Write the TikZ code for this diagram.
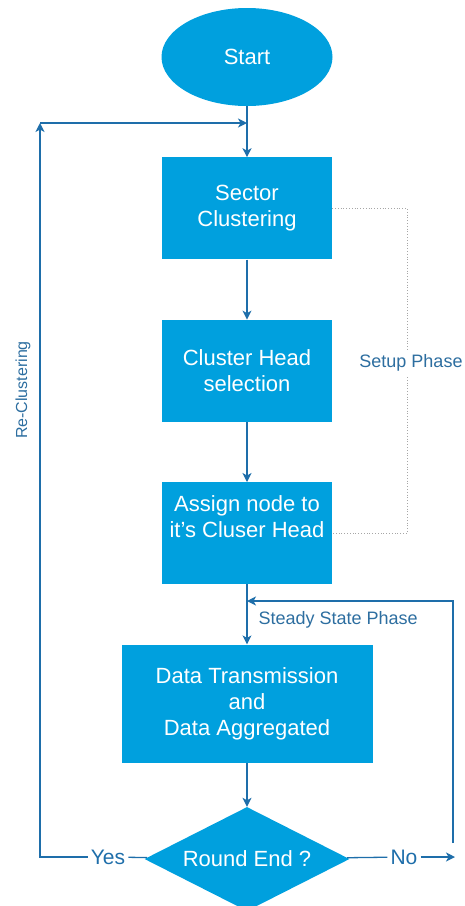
\documentclass[tikz,border=0pt]{standalone}
\usepackage{fontspec}
\setmainfont{Liberation Sans}
\usetikzlibrary{positioning,shapes.geometric,arrows.meta}
\definecolor{boxblue}{RGB}{0, 160, 222}
\definecolor{lineblue}{RGB}{30, 110, 170}
\definecolor{labelblue}{RGB}{45, 110, 160}

\begin{document}
\begin{tikzpicture}[x=1pt, y=1pt, node distance=60pt, >={Stealth[length=9pt, width=9pt, inset=2.5pt]}, every node/.style={font=\fontsize{22}{26}\selectfont}]
        \useasboundingbox (0,0) rectangle (464,-906);

        \node[ellipse, fill=boxblue, text=white, minimum width=171pt, minimum height=98pt, inner sep=0pt] (start) at (247,-57) {Start};
        \node[fill=boxblue, text=white, minimum width=170pt, minimum height=102pt, align=center, below=51pt of start] (sector) {Sector\\Clustering};
        \node[fill=boxblue, text=white, minimum width=170pt, minimum height=102pt, align=center, below=of sector] (cluster) {Cluster Head\\selection};
        \node[fill=boxblue, text=white, minimum width=170pt, minimum height=102pt, align=center, below=of cluster] (assign) {Assign node to\\it's Cluser Head\\\strut};
        \node[fill=boxblue, text=white, minimum width=251pt, minimum height=118pt, align=center, below=of assign] (data) {Data Transmission\\and\\Data Aggregated};
        \node[diamond, aspect=2, fill=boxblue, text=white, minimum width=205pt, minimum height=104pt, inner sep=0pt, below=44pt of data] (round) {Round End ?};

        \node[text=lineblue, font=\fontsize{21}{24}\selectfont, inner sep=3pt] (yes) at (108,-857) {Yes};
        \node[text=lineblue, font=\fontsize{21}{24}\selectfont, inner sep=3pt] (no) at (404,-857) {No};

        \coordinate (loopin) at (start.south |- 0,-123);
        \coordinate (corner) at (40,-123);
        \coordinate (noend) at (455,-857);
        \coordinate (retbot) at (453,-843);
        \coordinate (rettop) at (453,-601);

        \draw[->, line width=1.3pt, lineblue] (start) -- (sector);
        \draw[->, line width=1.3pt, lineblue] (sector) -- (cluster);
        \draw[->, line width=1.3pt, lineblue] (cluster) -- (assign);
        \draw[->, line width=1.3pt, lineblue] (assign) -- (data);
        \draw[->, line width=1.3pt, lineblue] (data) -- (round);

        \draw[line width=1.3pt, lineblue] (round) -- (yes);
        \draw[->, line width=1.3pt, lineblue] (yes) -| (corner);
        \draw[->, line width=1.3pt, lineblue] (corner) -- (loopin);

        \draw[line width=1.3pt, lineblue] (round) -- (no);
        \draw[->, line width=1.3pt, lineblue] (no) -- (noend);
        \draw[->, line width=1.3pt, lineblue] (retbot) -- (rettop) -- (assign.south |- rettop);

        \draw[thick, dotted, gray!70] (sector.east) -- ++(75,0) |- (assign.east);
        \node[fill=white, text=labelblue, font=\fontsize{18}{20}\selectfont] (setup) at (411,-363) {Setup Phase};
        \node[anchor=west, text=labelblue, font=\fontsize{18}{20}\selectfont] (steady) at (255,-620) {Steady State Phase};
        \node[rotate=90, text=labelblue, font=\fontsize{16}{18}\selectfont] (recluster) at (23,-390) {Re-Clustering};
    \end{tikzpicture}
\end{document}
